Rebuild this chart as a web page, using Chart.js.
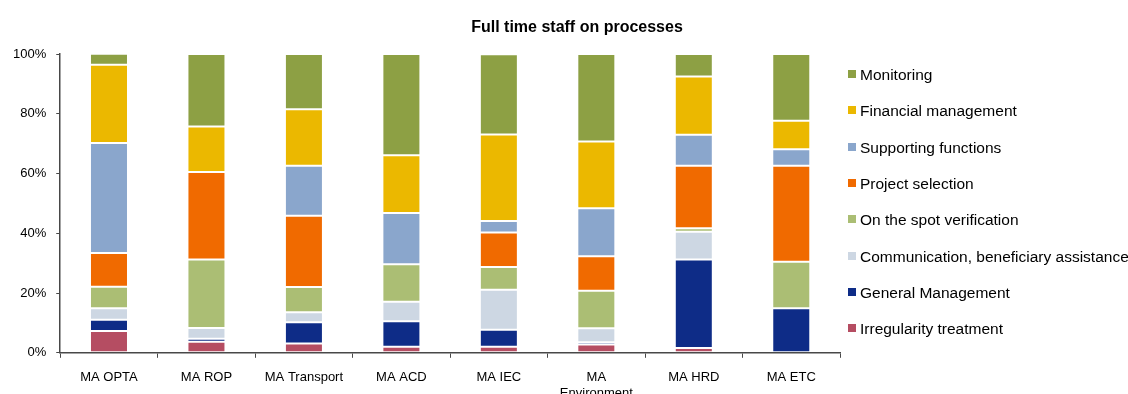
<!DOCTYPE html>
<html>
<head>
<meta charset="utf-8">
<title>Full time staff on processes</title>
<script src="https://cdn.jsdelivr.net/npm/chart.js@4.4.1/dist/chart.umd.min.js"></script>
<style>
    html, body {
        margin: 0;
        padding: 0;
        background: #ffffff;
        overflow: hidden;
    }
    #wrap {
        position: relative;
        width: 1128px;
        height: 394px;
        overflow: hidden;
    }
    #staffChart {
        position: absolute;
        left: 0;
        top: 0;
    }
    #title {
        position: absolute;
        left: 0;
        top: 17px;
        width: 1154px;
        text-align: center;
        font-family: "Liberation Sans", Arial, sans-serif;
        font-size: 16px;
        font-weight: bold;
        line-height: 19px;
        color: #000000;
    }
    #legend {
        position: absolute;
        left: 848px;
        top: 57px;
        margin: 0;
        padding: 0;
        list-style: none;
        font-family: "Liberation Sans", Arial, sans-serif;
        font-size: 15.5px;
        color: #000000;
        white-space: nowrap;
    }
    #legend li {
        height: 36.3px;
        display: flex;
        align-items: center;
    }
    #legend .box {
        width: 8px;
        height: 8px;
        margin-right: 4px;
        margin-top: -2px;
        flex: none;
    }
</style>
</head>
<body>
<div id="wrap">
    <canvas id="staffChart" width="1152" height="413"></canvas>
    <div id="title">Full time staff on processes</div>
    <ul id="legend"></ul>
</div>
<script>

const categories = [
    "MA OPTA",
    "MA ROP",
    "MA Transport",
    "MA ACD",
    "MA IEC",
    ["MA", "Environment"],
    "MA HRD",
    "MA ETC"
];

const yTicks = [0, 20, 40, 60, 80, 100];

// shares in % per process, bottom of the stack first
const irregularity = [7.3, 3.7, 3.1, 2.0, 2.0, 2.8, 1.6, 0.0];
const generalManagement = [3.8, 1.0, 7.1, 8.6, 5.7, 0.7, 29.6, 14.9];
const communication = [3.8, 3.6, 3.4, 6.5, 13.4, 4.7, 9.3, 0.0];
const onTheSpot = [7.2, 22.9, 8.4, 12.5, 7.6, 12.6, 1.2, 15.6];
const projectSelection = [11.3, 29.3, 23.9, 0.0, 11.6, 11.5, 20.9, 32.1];
const supporting = [36.8, 0.0, 16.7, 17.2, 3.8, 16.1, 10.4, 5.5];
const financial = [26.2, 15.2, 18.9, 19.3, 29.0, 22.3, 19.5, 9.6];
const monitoring = [3.7, 24.3, 18.5, 33.9, 26.8, 29.3, 7.5, 22.3];

const series = [
    { label: "Irregularity treatment", data: irregularity, color: "#b54d62" },
    { label: "General Management", data: generalManagement, color: "#0e2c87" },
    { label: "Communication, beneficiary assistance", data: communication, color: "#cdd7e3" },
    { label: "On the spot verification", data: onTheSpot, color: "#abbe74" },
    { label: "Project selection", data: projectSelection, color: "#f06a00" },
    { label: "Supporting functions", data: supporting, color: "#8aa6cc" },
    { label: "Financial management", data: financial, color: "#ebb800" },
    { label: "Monitoring", data: monitoring, color: "#8da044" }
];

const font = "Liberation Sans, Arial, sans-serif";

// legend on the right, top entry = top of the stack
const legend = document.getElementById("legend");

series.slice().reverse().forEach(s => {

    const li = document.createElement("li");

    const box = document.createElement("span");
    box.className = "box";
    box.style.background = s.color;

    li.appendChild(box);
    li.appendChild(document.createTextNode(s.label));

    legend.appendChild(li);

});

new Chart(document.getElementById("staffChart"), {

    type: "bar",

    data: {
        labels: categories,
        datasets: series.map(s => ({
            label: s.label,
            data: s.data,
            backgroundColor: s.color,
            borderColor: "rgba(255,255,255,0.25)",
            borderWidth: 1,
            borderSkipped: false,
            barPercentage: 0.39,
            categoryPercentage: 1
        }))
    },

    options: {

        responsive: false,
        animation: false,
        devicePixelRatio: 1,

        layout: {
            padding: { left: 3, right: 312, top: 54, bottom: 0 }
        },

        scales: {

            x: {
                stacked: true,
                grid: {
                    display: true,
                    drawOnChartArea: false,
                    drawTicks: true,
                    tickLength: 5,
                    color: "#484848",
                    offset: true
                },
                border: { color: "#484848", width: 1.5 },
                ticks: {
                    color: "#000000",
                    font: { family: font, size: 13 },
                    maxRotation: 0,
                    autoSkip: false,
                    padding: 12
                }
            },

            y: {
                stacked: true,
                min: 0,
                max: 100,
                afterBuildTicks: axis => {
                    axis.ticks = yTicks.map(v => ({ value: v }));
                },
                grid: {
                    display: true,
                    drawOnChartArea: false,
                    drawTicks: true,
                    tickLength: 4,
                    color: "#484848"
                },
                border: { color: "#484848", width: 1.5 },
                ticks: {
                    color: "#000000",
                    font: { family: font, size: 13 },
                    padding: 10,
                    callback: v => v + "%"
                }
            }

        },

        plugins: {

            title: { display: false },

            legend: { display: false },

            tooltip: { enabled: false }

        }

    }

});

</script>
</body>
</html>
